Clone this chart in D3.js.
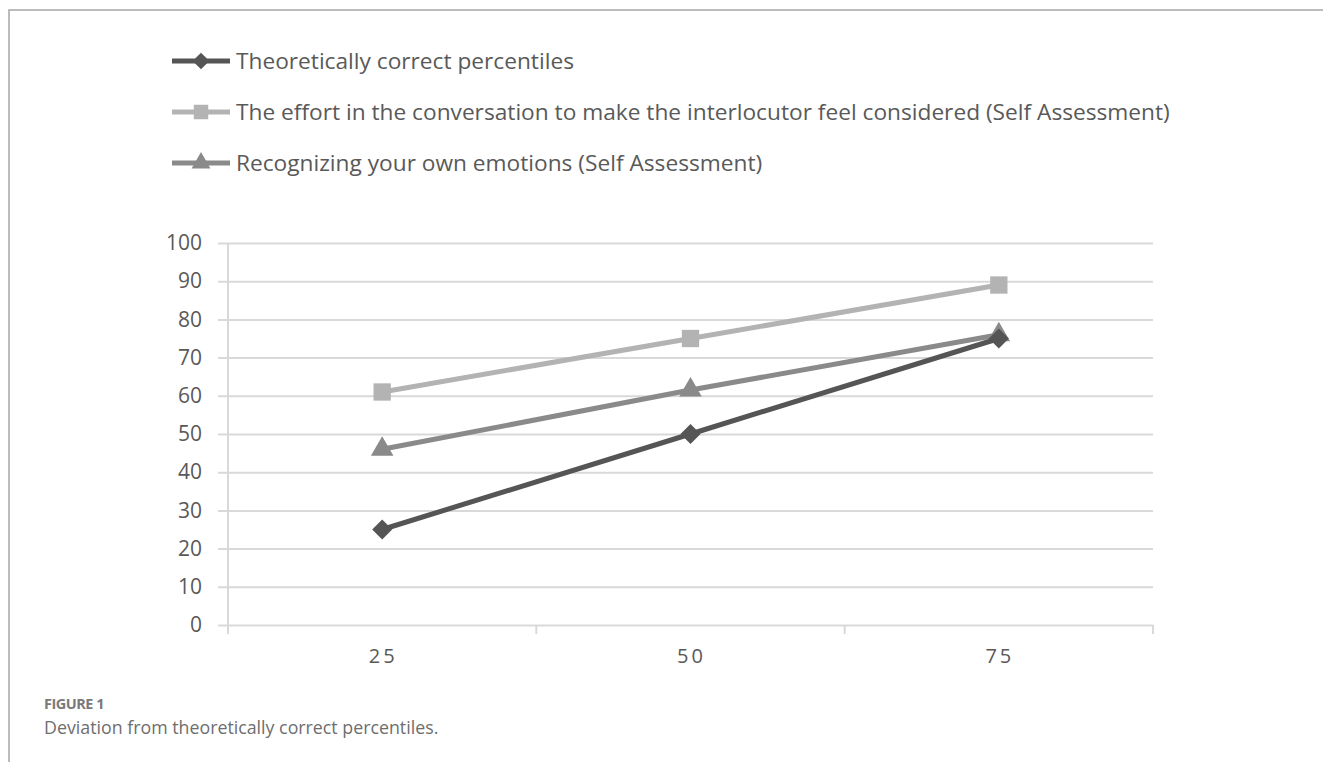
<!DOCTYPE html>
<html>
<head>
<meta charset="utf-8">
<script src="https://cdn.jsdelivr.net/npm/d3@7"></script>
<style>
  body { margin: 0; background: #fff; }
</style>
</head>
<body>
<div id="chart"></div>
<script>
// data
const categories = ["25", "50", "75"];
const theoretical = [25, 50, 75];
const effort = [61, 75, 89];
const recognizing = [46, 61.5, 76];
const yTicks = [0, 10, 20, 30, 40, 50, 60, 70, 80, 90, 100];
const seriesNames = [
    "Theoretically correct percentiles",
    "The effort in the conversation to make the interlocutor feel considered (Self Assessment)",
    "Recognizing your own emotions (Self Assessment)"
];

const width = 1323, height = 762;
const margin = { top: 243, right: 170, bottom: 136, left: 228 }; // plot box

const series = [
    { name: seriesNames[0], values: theoretical, color: "#555555", shape: d3.symbolSquare, size: 200, rotate: 45 },
    { name: seriesNames[1], values: effort, color: "#b3b3b3", shape: d3.symbolSquare, size: 300, rotate: 0 },
    { name: seriesNames[2], values: recognizing, color: "#8a8a8a", shape: d3.symbolTriangle, size: 220, rotate: 0 }
];

let svg = d3.select("#chart")
    .append("svg")
    .attr("width", width)
    .attr("height", height);

// frame around the figure
svg.append("path")
    .attr("d", `M9,${height} V10 H${width}`)
    .attr("fill", "none")
    .attr("stroke", "#a6a6a6")
    .attr("stroke-width", 1.5);

let x = d3.scaleBand()
    .domain(categories)
    .range([margin.left, width - margin.right]);

let y = d3.scaleLinear()
    .domain([0, 100])
    .range([height - margin.bottom - 1, margin.top]);

// horizontal gridlines with little left ticks
svg.append("g")
    .attr("transform", `translate(${margin.left},0)`)
    .call(d3.axisLeft(y).tickValues(yTicks).tickSize(0).tickPadding(26))
    .call(g => g.select(".domain").remove())
    .call(g => g.selectAll(".tick line").clone()
        .attr("x1", -10)
        .attr("x2", width - margin.right - margin.left)
        .attr("stroke", "#d9d9d9")
        .attr("stroke-width", 2))
    .call(g => g.selectAll(".tick text")
        .attr("fill", "#595959")
        .style("font-family", "'Open Sans', sans-serif")
        .style("font-size", "21px"));

// y axis line
svg.append("line")
    .attr("x1", margin.left).attr("x2", margin.left)
    .attr("y1", y(100)).attr("y2", y(0))
    .attr("stroke", "#d9d9d9")
    .attr("stroke-width", 2);

// x axis: ticks between categories
let xEdges = categories.map(c => x(c)).concat([x.range()[1]]);
svg.append("g")
    .selectAll("line")
    .data(xEdges)
    .join("line")
    .attr("x1", d => d).attr("x2", d => d)
    .attr("y1", y(0)).attr("y2", y(0) + 9)
    .attr("stroke", "#d9d9d9")
    .attr("stroke-width", 2);

svg.append("g")
    .selectAll("text")
    .data(categories)
    .join("text")
    .attr("x", d => x(d) + x.bandwidth() / 2 + 1)
    .attr("y", y(0) + 38)
    .attr("text-anchor", "middle")
    .attr("fill", "#595959")
    .style("font-family", "'Open Sans', sans-serif")
    .style("font-size", "20px")
    .style("letter-spacing", "3px")
    .text(d => d);

let line = d3.line()
    .x((d, i) => x(categories[i]) + x.bandwidth() / 2)
    .y(d => y(d));

// draw effort first, then recognizing, theoretical on top
let order = [series[1], series[2], series[0]];
let sg = svg.selectAll(".series")
    .data(order)
    .join("g")
    .attr("class", "series");

sg.append("path")
    .attr("d", d => line(d.values))
    .attr("fill", "none")
    .attr("stroke", d => d.color)
    .attr("stroke-width", 5);

sg.each(function (s) {
    d3.select(this).selectAll(".mark")
        .data(s.values)
        .join("path")
        .attr("class", "mark")
        .attr("transform", (d, i) => `translate(${x(categories[i]) + x.bandwidth() / 2},${y(d)}) rotate(${s.rotate})`)
        .attr("d", d3.symbol().type(s.shape).size(s.size))
        .attr("fill", s.color);
});

// legend
let legend = svg.append("g")
    .selectAll("g")
    .data(series)
    .join("g")
    .attr("transform", (d, i) => `translate(172,${61 + i * 51})`);

legend.append("line")
    .attr("x1", 0).attr("x2", 58)
    .attr("stroke", d => d.color)
    .attr("stroke-width", 5);

legend.append("path")
    .attr("transform", d => `translate(29,0) rotate(${d.rotate})`)
    .attr("d", d => d3.symbol().type(d.shape).size(d.size * 0.7)())
    .attr("fill", d => d.color);

legend.append("text")
    .attr("x", 64)
    .attr("y", 8)
    .attr("fill", "#595959")
    .style("font-family", "'Open Sans', sans-serif")
    .style("font-size", "22.7px")
    .text(d => d.name);

// caption
svg.append("text")
    .attr("x", 44)
    .attr("y", 709)
    .attr("fill", "#7a7a7a")
    .style("font-family", "'Open Sans', sans-serif")
    .style("font-size", "14.5px")
    .style("font-weight", "bold")
    .style("letter-spacing", "-0.5px")
    .text("FIGURE 1");

svg.append("text")
    .attr("x", 44)
    .attr("y", 734)
    .attr("fill", "#6e6e6e")
    .style("font-family", "'Open Sans', sans-serif")
    .style("font-size", "17.8px")
    .text("Deviation from theoretically correct percentiles.");
</script>
</body>
</html>
